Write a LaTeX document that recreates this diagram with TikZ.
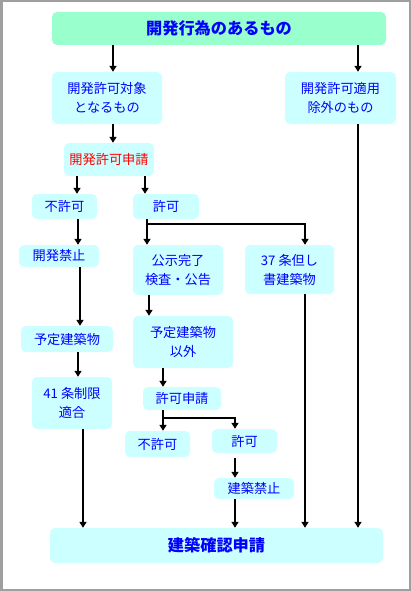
\documentclass[tikz,border=0pt]{standalone}
\usepackage{xcolor}
\usepackage{fontspec}
\setmainfont{Noto Sans CJK JP}
\usepackage{tikz}
\usetikzlibrary{positioning,arrows.meta}

\definecolor{mint}{HTML}{99FFCC}
\definecolor{pale}{HTML}{CCFFFF}
\definecolor{txtblue}{HTML}{0000FF}

\begin{document}
\begin{tikzpicture}[
    x=1pt, y=-1pt,
    >={Triangle[width=7pt,length=6pt]},
    box/.style   = {rectangle, rounded corners=5pt, fill=pale, draw=none,
                    align=center, text=txtblue, inner sep=0pt,
                    font=\fontsize{13.2}{19}\selectfont},
    headbox/.style = {box, font=\fontsize{16.2}{19}\selectfont\bfseries},
    flow/.style  = {line width=2pt, ->},
]
\useasboundingbox (0,0) rectangle (411,591);
\draw[gray!75, line width=2.5pt] (1.25,1.25) rectangle (409.75,589.75);

% top and bottom
\node[headbox, fill=mint, minimum width=334pt, minimum height=33pt] (top) at (219,28.5) {開発行為のあるもの};
\node[headbox, minimum width=333pt, minimum height=35pt] (kakunin) at (216.5,545.5) {建築確認申請};

% first split
\node[box, minimum width=110pt, minimum height=52pt] (taisho) at (107,98) {開発許可対象\\となるもの};
\node[box, minimum width=111pt, minimum height=52pt] (jogai)  at (340.5,98) {開発許可適用\\除外のもの};
\node[box, text=red, minimum width=90pt, minimum height=33pt] (shinsei) at (109,159.5) {開発許可申請};

% left branch
\node[box, minimum width=65pt, minimum height=25pt] (fukyoka) at (64.5,206.5) {不許可};
\node[box, minimum width=80pt, minimum height=22pt] (kaikinshi) at (59,256) {開発禁止};
\node[box, minimum width=92pt, minimum height=26pt] (yotei) at (67,339) {予定建築物};
\node[box, minimum width=80pt, minimum height=52pt] (jo41) at (72,403) {41 条制限\\適合};

% middle branch
\node[box, minimum width=66pt, minimum height=25pt] (kyoka) at (166,206.5) {許可};
\node[box, minimum width=90pt, minimum height=50pt] (koji) at (178,270) {公示完了\\検査・公告};
\node[box, minimum width=89pt, minimum height=49pt] (tadashi) at (289.5,269.5) {37 条但し\\書建築物};
\node[box, minimum width=100pt, minimum height=52pt] (igai) at (183,342) {予定建築物\\以外};
\node[box, minimum width=78pt, minimum height=23pt] (kshinsei) at (182,398.5) {許可申請};
\node[box, minimum width=65pt, minimum height=26pt] (fukyoka2) at (157.5,444) {不許可};
\node[box, minimum width=65pt, minimum height=24pt] (kyoka2) at (244.5,441) {許可};
\node[box, minimum width=80pt, minimum height=21pt] (kenkinshi) at (254,488.5) {建築禁止};

\coordinate (br1) at (147,224);
\coordinate (br2) at (163,418);

\draw[flow] (top.south -| 113,0) -- (taisho.north -| 113,0);
\draw[flow] (top.south -| 358,0) -- (jogai.north -| 358,0);
\draw[flow] (taisho.south -| 113,0) -- (shinsei.north -| 113,0);
\draw[flow] (shinsei.south -| 77,0) -- (fukyoka.north -| 77,0);
\draw[flow] (shinsei.south -| 145,0) -- (kyoka.north -| 145,0);

\draw[flow] (fukyoka.south -| 78,0) -- (kaikinshi.north -| 78,0);
\draw[flow] (kaikinshi.south -| 80,0) -- (yotei.north -| 80,0);
\draw[flow] (yotei.south -| 78,0) -- (jo41.north -| 78,0);
\draw[flow] (jo41.south -| 83,0) -- (kakunin.north -| 83,0);

\draw[flow] (kyoka.south -| br1) -- (koji.north -| br1);
\draw[flow] (br1) -| (tadashi.north -| 305,0);
\draw[flow] (koji.south -| 149,0) -- (igai.north -| 149,0);
\draw[flow] (igai.south -| br2) -- (kshinsei.north -| br2);
\draw[flow] (kshinsei.south -| br2) -- (fukyoka2.north -| br2);
\draw[flow] (br2) -| (kyoka2.north -| 235,0);
\draw[flow] (kyoka2.south -| 235,0) ++(0,5) -- (kenkinshi.north -| 235,0);
\draw[flow] (kenkinshi.south -| 235,0) -- (kakunin.north -| 235,0);

\draw[flow] (tadashi.south -| 305,0) -- (kakunin.north -| 305,0);
\draw[flow] (jogai.south -| 358,0) -- (kakunin.north -| 358,0);
\end{tikzpicture}
\end{document}
